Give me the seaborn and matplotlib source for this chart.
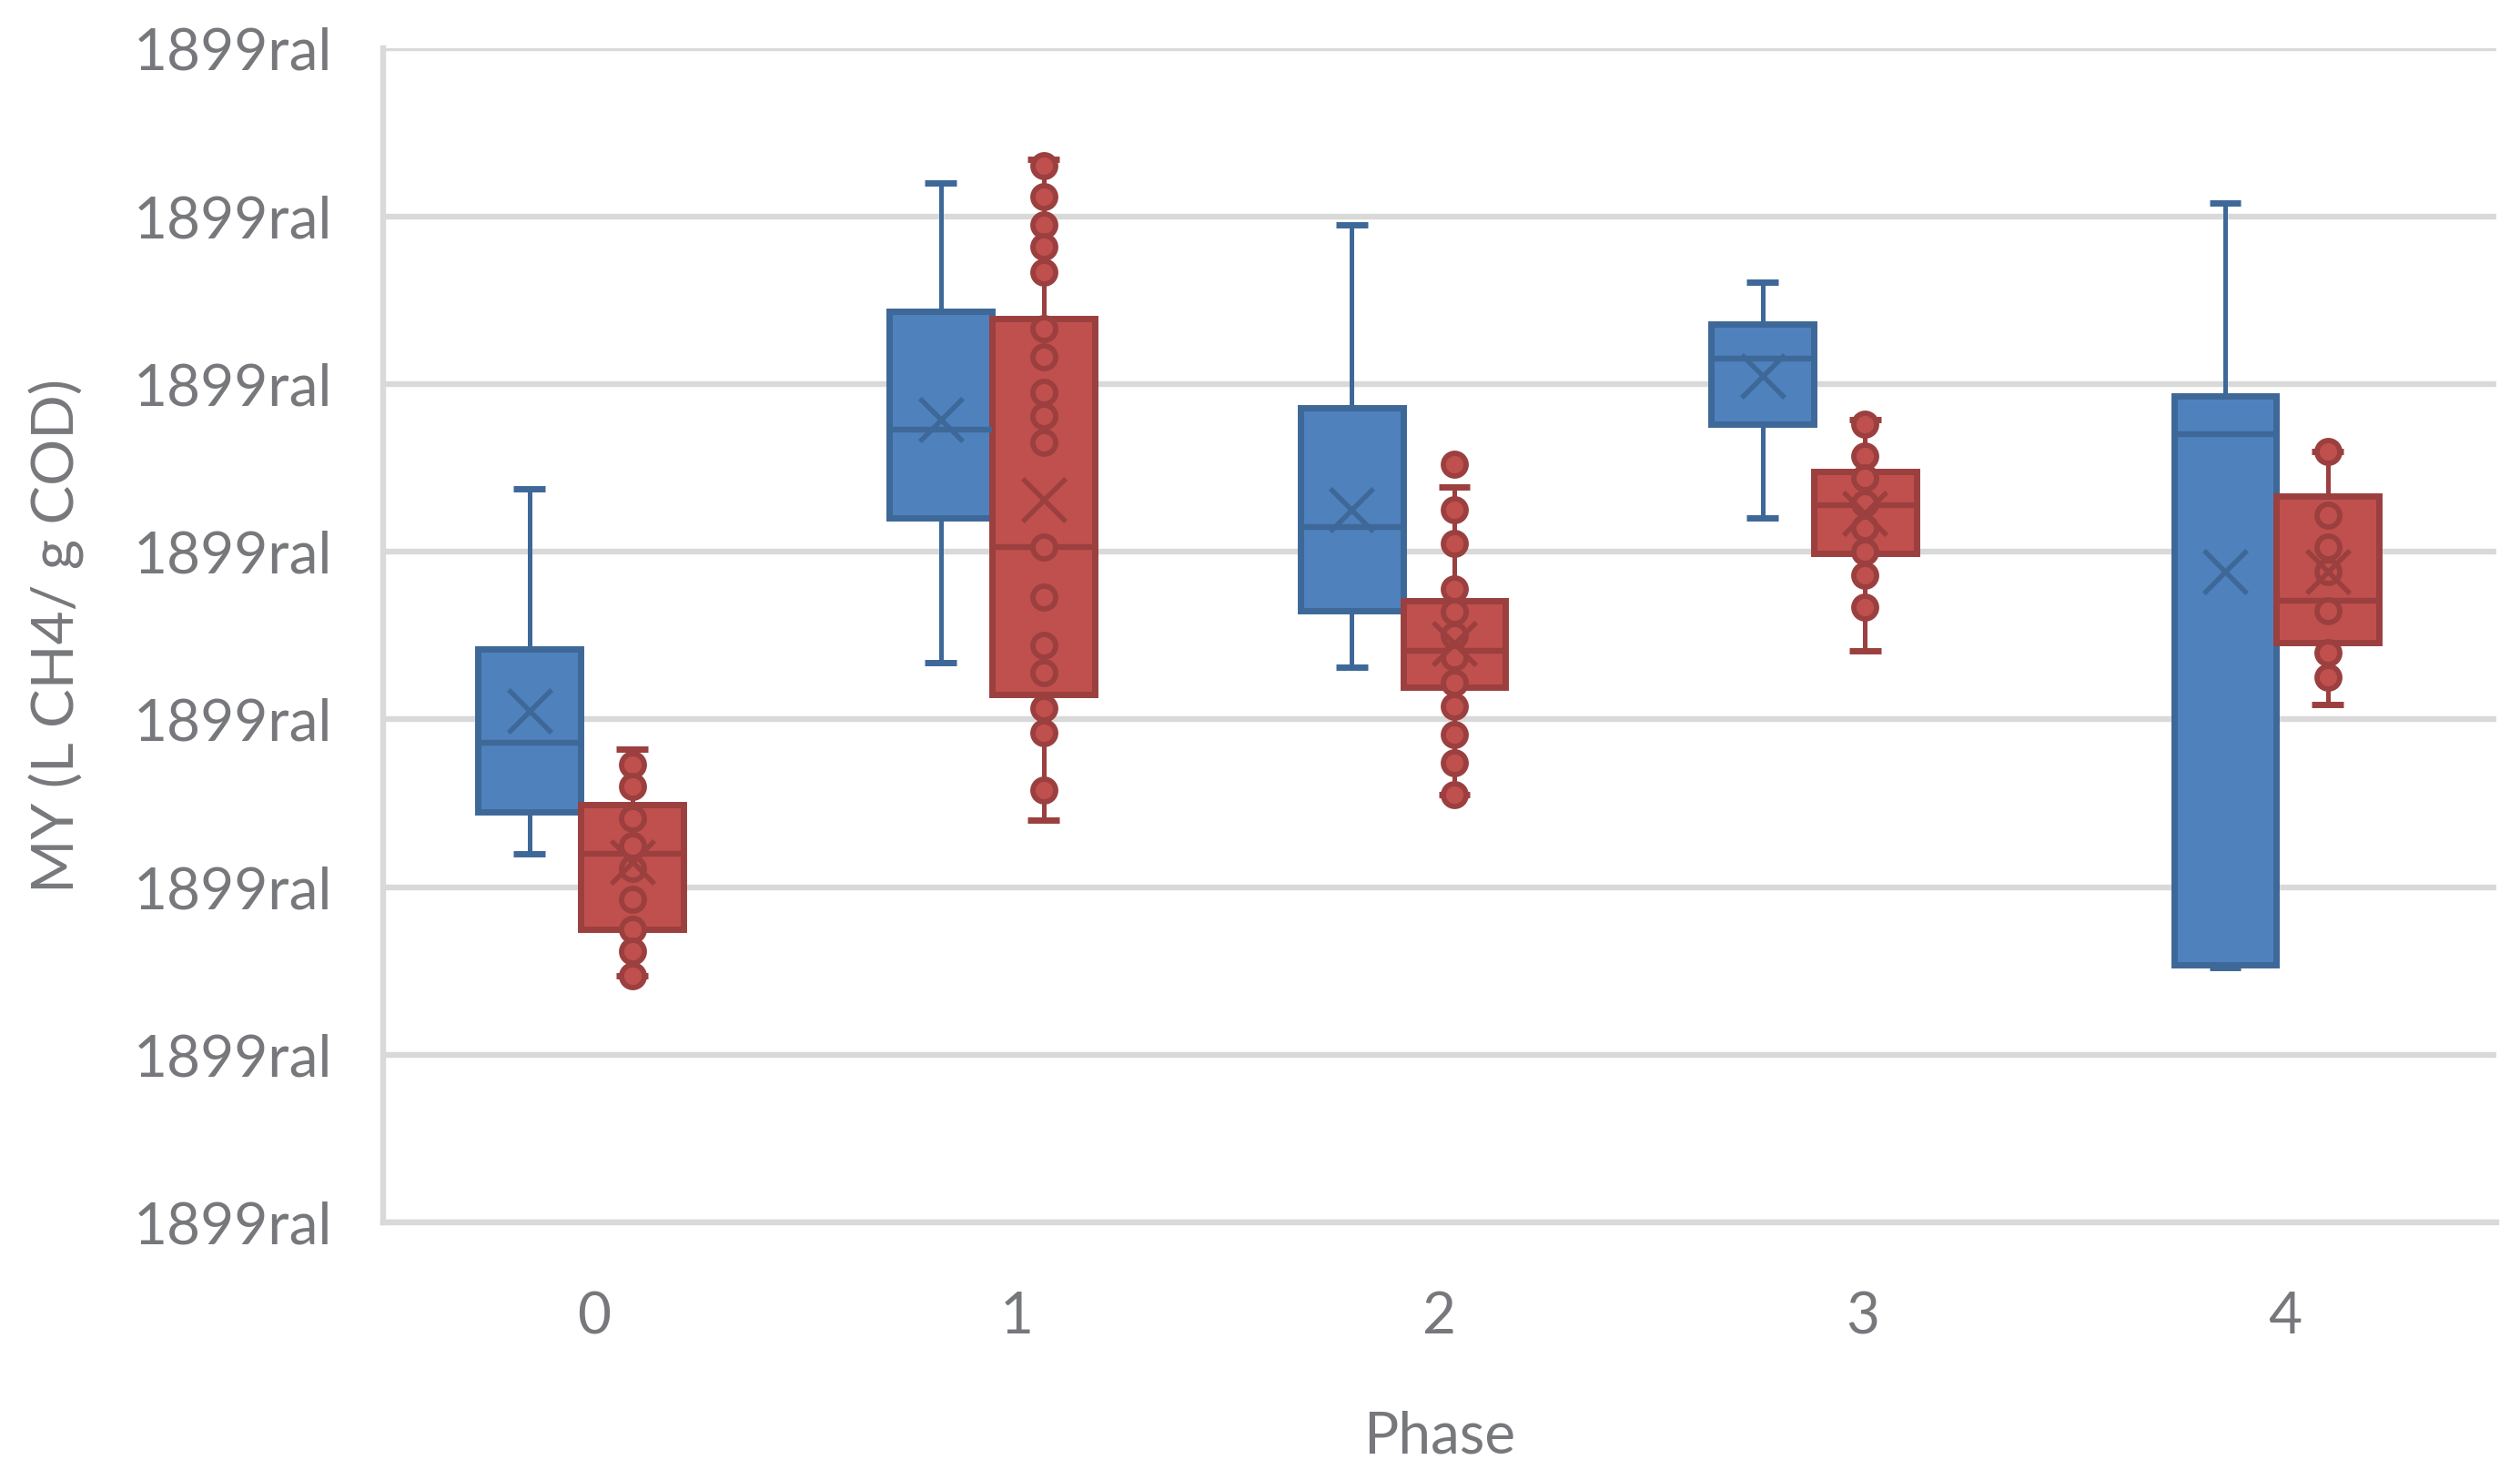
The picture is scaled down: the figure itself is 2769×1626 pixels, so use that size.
import matplotlib
matplotlib.use("Agg")
import matplotlib.pyplot as plt
import pandas as pd
import seaborn as sns

# categories on the x axis
phases = ["0", "1", "2", "3", "4"]

# blue series box statistics
blue_low = [2.20, 3.34, 3.31, 4.20, 1.52]
blue_q1 = [2.45, 4.20, 3.65, 4.76, 1.535]
blue_med = [2.86, 4.73, 4.15, 5.15, 4.70]
blue_q3 = [3.42, 5.435, 4.86, 5.36, 4.93]
blue_high = [4.375, 6.20, 5.95, 5.61, 6.08]
blue_mean = [3.05, 4.79, 4.25, 5.05, 3.88]

# red series box statistics
red_low = [1.47, 2.40, 2.55, 3.41, 3.09]
red_q1 = [1.75, 3.15, 3.19, 3.99, 3.46]
red_med = [2.20, 4.03, 3.41, 4.28, 3.71]
red_q3 = [2.49, 5.39, 3.71, 4.48, 4.33]
red_high = [2.825, 6.34, 4.385, 4.79, 4.60]
red_mean = [2.15, 4.31, 3.45, 4.23, 3.88]

# red series individual points, one list per phase
red_points = [
    [2.73, 2.60, 2.41, 2.25, 2.11, 1.93, 1.75, 1.62, 1.47],
    [6.30, 6.12, 5.95, 5.82, 5.67, 5.33, 5.16, 4.95, 4.81, 4.65, 4.03,
     3.73, 3.44, 3.28, 3.07, 2.92, 2.58],
    [4.52, 4.25, 4.05, 3.78, 3.64, 3.50, 3.37, 3.22, 3.08, 2.91, 2.74, 2.55],
    [4.76, 4.57, 4.44, 4.29, 4.14, 4.00, 3.86, 3.67],
    [4.60, 4.22, 4.03, 3.88, 3.65, 3.40, 3.25],
]

y_ticks = [0, 1, 2, 3, 4, 5, 6, 7]
y_tick_labels = ["1899ral"] * len(y_ticks)

# colours
blue_fill = "#4F81BD"
blue_edge = "#3D6898"
red_fill = "#C0504D"
red_edge = "#9B3F3F"
grid_col = "#D9D9D9"
text_col = "#77787B"

# layout: each pair of boxes sits a little off its tick, like the original
pair_shift = [-0.032, -0.059, -0.087, -0.115, -0.020]
half_gap = 0.1215
box_w = 0.243

sns.set_theme(style="whitegrid")
plt.rcParams["font.family"] = ["Lato", "DejaVu Sans"]

fig = plt.figure(figsize=(13.845, 8.13), dpi=200)
ax = fig.add_axes([0.152, 0.174, 0.8386, 0.7931])

pos_blue = [i + s - half_gap for i, s in enumerate(pair_shift)]
pos_red = [i + s + half_gap for i, s in enumerate(pair_shift)]


def box_stats(low, q1, med, q3, high):
    return [dict(whislo=a, q1=b, med=c, q3=d, whishi=e, fliers=[])
            for a, b, c, d, e in zip(low, q1, med, q3, high)]


def draw_boxes(stats, pos, fill, edge):
    ax.bxp(stats, positions=pos, widths=box_w, capwidths=0.075,
           patch_artist=True, showfliers=False, manage_ticks=False, zorder=3,
           boxprops=dict(facecolor=fill, edgecolor=edge, linewidth=2.5,
                         joinstyle="miter"),
           whiskerprops=dict(color=edge, linewidth=1.8),
           capprops=dict(color=edge, linewidth=2.5, solid_capstyle="butt"),
           medianprops=dict(color=edge, linewidth=2.3, solid_capstyle="butt"))


draw_boxes(box_stats(blue_low, blue_q1, blue_med, blue_q3, blue_high),
           pos_blue, blue_fill, blue_edge)
draw_boxes(box_stats(red_low, red_q1, red_med, red_q3, red_high),
           pos_red, red_fill, red_edge)

# red inner points
rows = []
for i, vals in enumerate(red_points):
    for v in vals:
        rows.append({"x": pos_red[i], "value": v})
pts = pd.DataFrame(rows)
sns.scatterplot(data=pts, x="x", y="value", ax=ax, marker="o", s=81,
                color=red_fill, edgecolor=red_edge, linewidth=2.1, zorder=5)

# means as crosses
sns.scatterplot(x=pos_blue, y=blue_mean, ax=ax, marker="x", s=289,
                color=blue_edge, linewidth=1.95, zorder=6)
sns.scatterplot(x=pos_red, y=red_mean, ax=ax, marker="x", s=289,
                color=red_edge, linewidth=1.95, zorder=6)

ax.set_xlim(-0.5, 4.5)
ax.set_ylim(0, 7)
ax.set_xticks(range(len(phases)))
ax.set_xticklabels(phases)
ax.set_yticks(y_ticks)
ax.set_yticklabels(y_tick_labels)
ax.set_axisbelow(True)
ax.grid(axis="y", color=grid_col, linewidth=2.3)
ax.grid(axis="x", visible=False)
for side in ["top", "right"]:
    ax.spines[side].set_visible(False)
for side in ["left", "bottom"]:
    ax.spines[side].set_color(grid_col)
    ax.spines[side].set_linewidth(2.3)

ax.tick_params(axis="both", length=0, labelsize=23, labelcolor=text_col)
ax.tick_params(axis="y", pad=20)
ax.tick_params(axis="x", pad=27)

ax.set_xlabel("Phase", fontsize=23, color=text_col)
ax.set_ylabel("MY (L CH4/ g COD)", fontsize=23, color=text_col)
ax.xaxis.set_label_coords(0.5, -0.16)
ax.yaxis.set_label_coords(-0.141, 0.5)

fig.savefig("out.png", dpi=200)
